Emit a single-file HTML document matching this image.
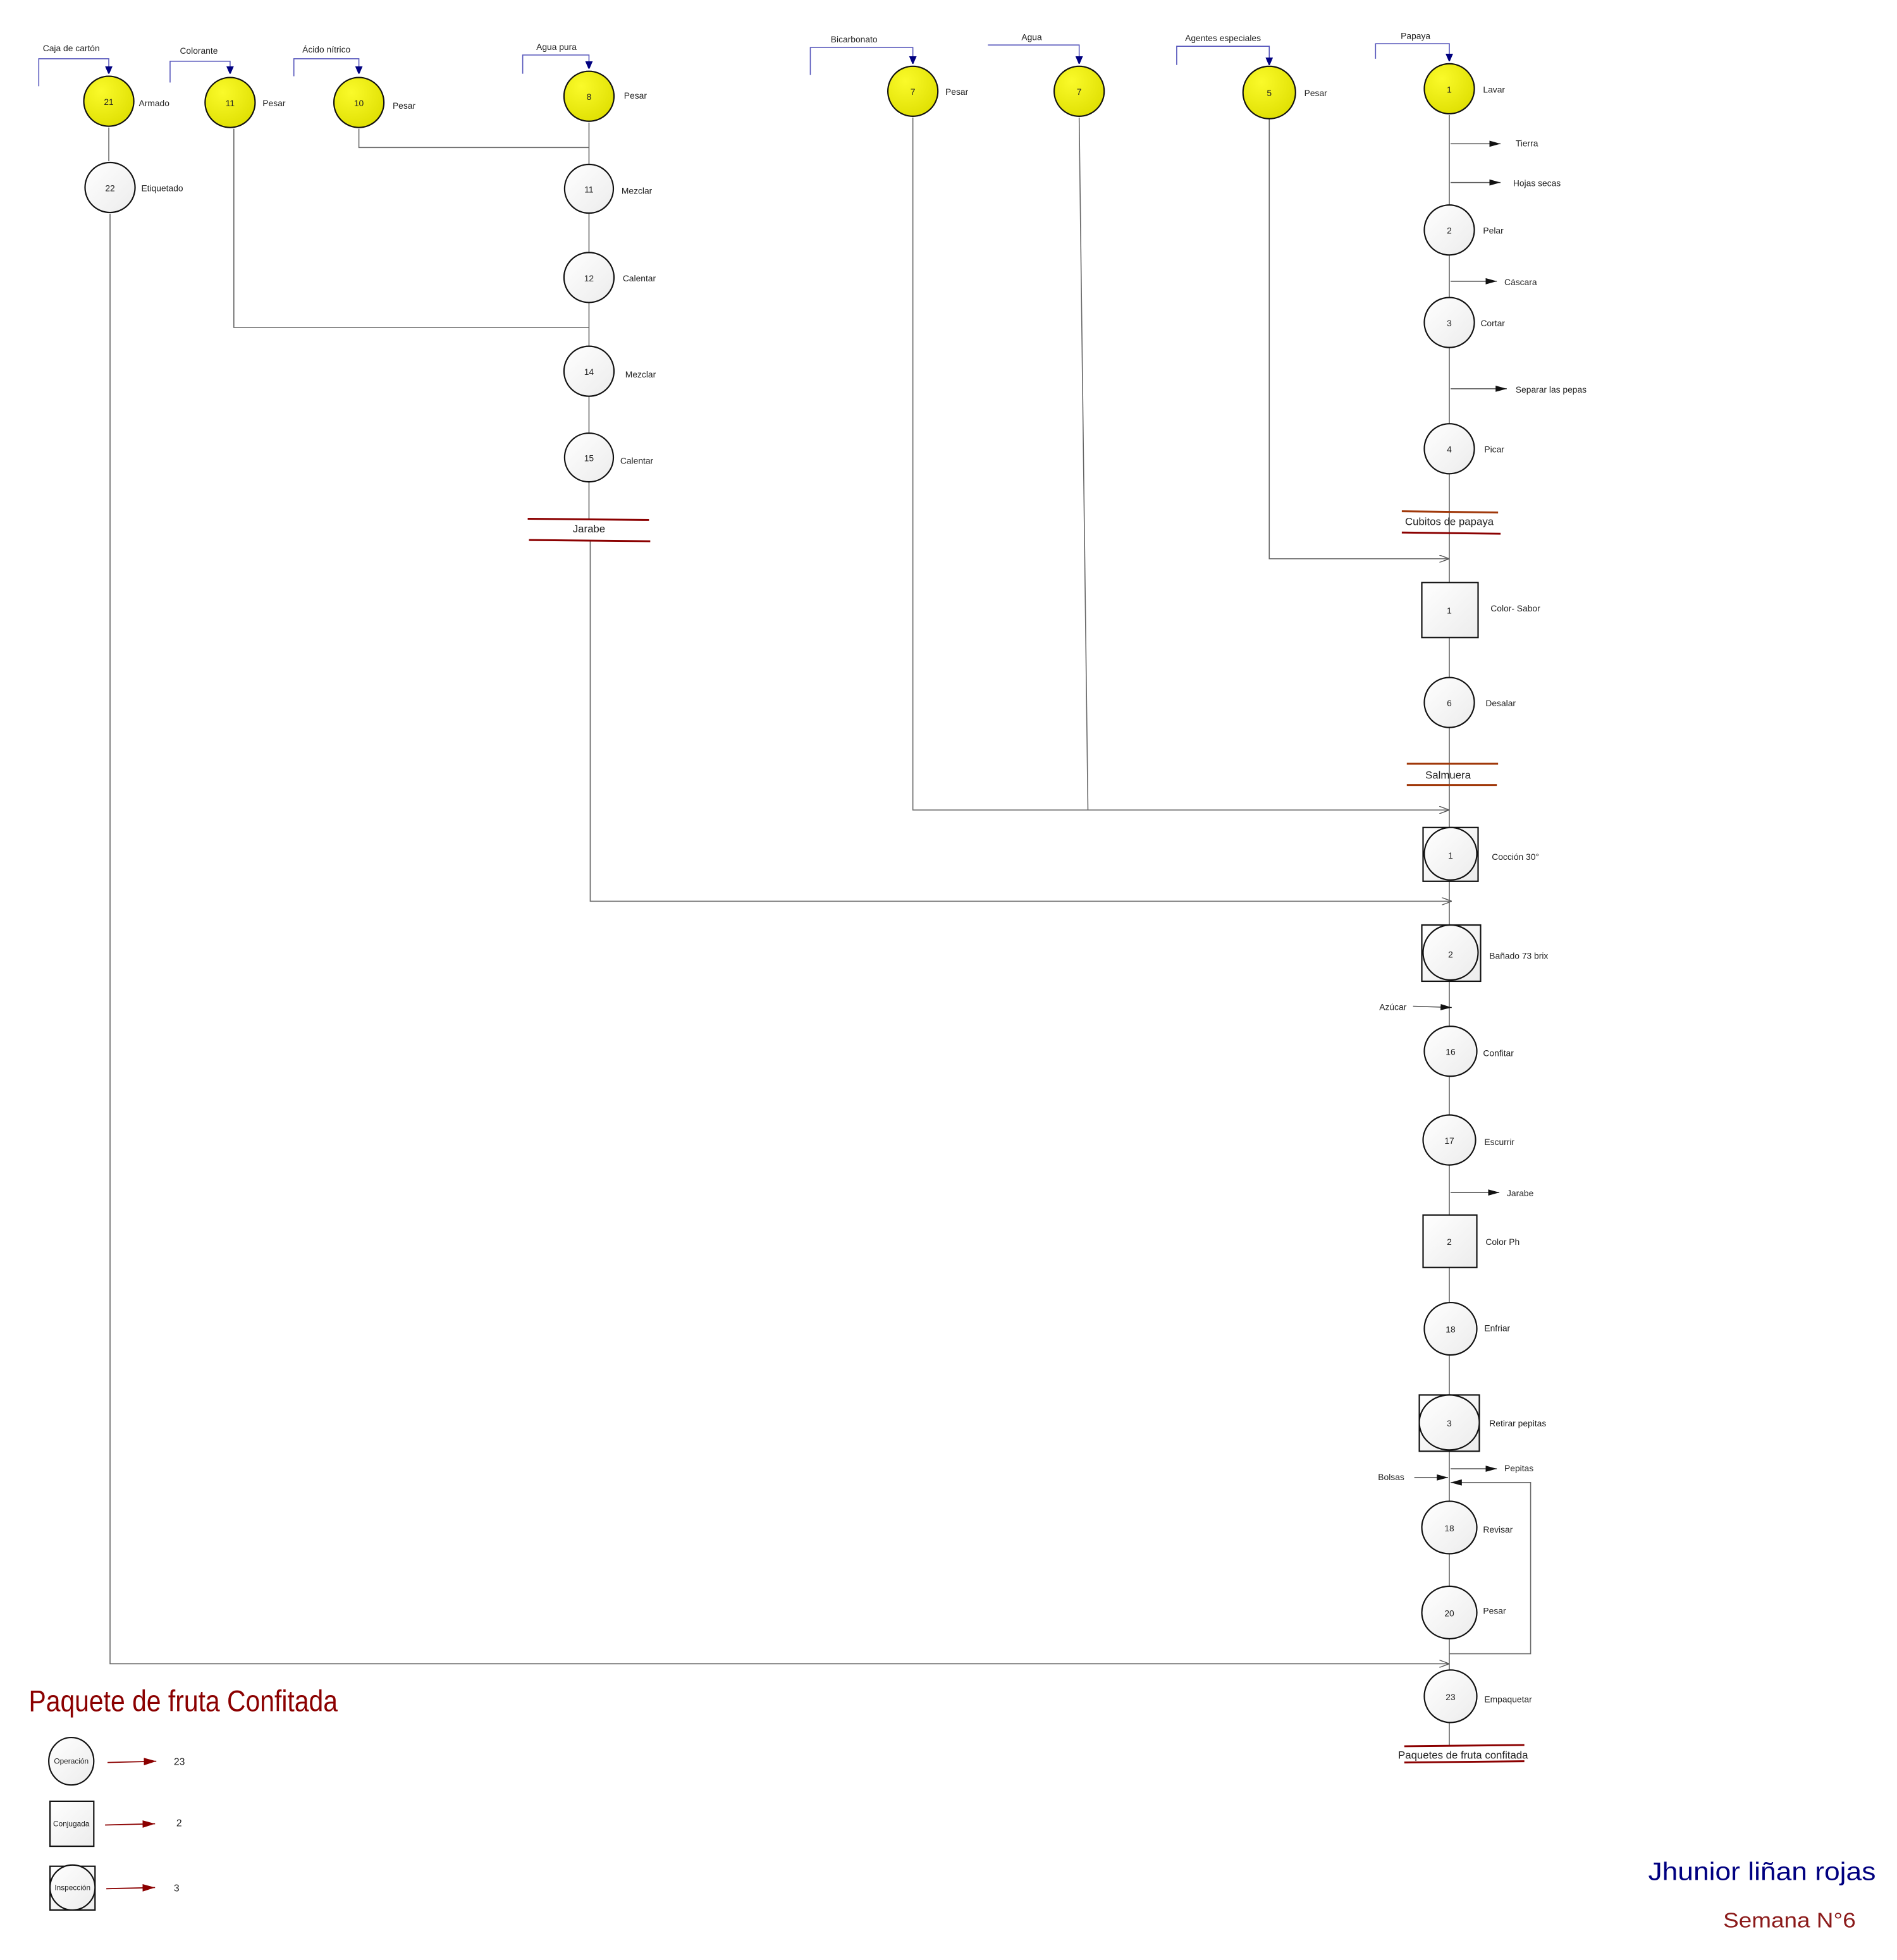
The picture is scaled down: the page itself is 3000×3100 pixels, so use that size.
<!DOCTYPE html>
<html><head><meta charset="utf-8"><style>
html,body{margin:0;padding:0;background:#fff;}
svg{display:block;}
text{font-family:"Liberation Sans",Arial,sans-serif;fill:#222;}
</style></head><body>
<svg width="3000" height="3100" viewBox="0 0 1517 1568" preserveAspectRatio="none" xmlns="http://www.w3.org/2000/svg">
<defs>
<radialGradient id="gy" cx="35%" cy="30%" r="80%"><stop offset="0" stop-color="#fafa2a"/><stop offset="1" stop-color="#dede00"/></radialGradient>
<linearGradient id="gw" x1="0" y1="0" x2="1" y2="1"><stop offset="0" stop-color="#ffffff"/><stop offset="1" stop-color="#ececec"/></linearGradient>
<marker id="ab" markerWidth="6" markerHeight="7" refX="6" refY="3" orient="auto" markerUnits="userSpaceOnUse"><path d="M0,0 L7,3 L0,6 z" fill="#000080"/></marker>
<marker id="af" markerWidth="9" markerHeight="5" refX="9" refY="2.5" orient="auto" markerUnits="userSpaceOnUse"><path d="M0,0 L9,2.5 L0,5 z" fill="#111"/></marker>
<marker id="ao" markerWidth="8" markerHeight="6" refX="8" refY="3" orient="auto" markerUnits="userSpaceOnUse"><path d="M0,0 L8,3 L0,6" fill="none" stroke="#555" stroke-width="0.7"/></marker>
<marker id="ar" markerWidth="10" markerHeight="6" refX="10" refY="3" orient="auto" markerUnits="userSpaceOnUse"><path d="M0,0 L10,3 L0,6 z" fill="#8b0000"/></marker>
</defs>

<g fill="none" stroke="#5555bb" stroke-width="0.8">
<path d="M31,69 V47 H87 V59" marker-end="url(#ab)"/>
<path d="M136,66 V49 H184 V59" marker-end="url(#ab)"/>
<path d="M235,61 V47 H287 V59" marker-end="url(#ab)"/>
<path d="M418,59 V44 H471 V55" marker-end="url(#ab)"/>
<path d="M648,60 V38 H730 V51" marker-end="url(#ab)"/>
<path d="M790,36 H863 V51" marker-end="url(#ab)"/>
<path d="M941,52 V37 H1015 V52" marker-end="url(#ab)"/>
<path d="M1100,47 V35 H1159 V49" marker-end="url(#ab)"/>
</g>
<g font-size="7">
<text x="57" y="41" text-anchor="middle">Caja de cartón</text>
<text x="159" y="43" text-anchor="middle">Colorante</text>
<text x="261" y="42" text-anchor="middle">Ácido nítrico</text>
<text x="445" y="40" text-anchor="middle">Agua pura</text>
<text x="683" y="34" text-anchor="middle">Bicarbonato</text>
<text x="825" y="32" text-anchor="middle">Agua</text>
<text x="978" y="33" text-anchor="middle">Agentes especiales</text>
<text x="1132" y="31" text-anchor="middle">Papaya</text>
</g>

<g fill="none" stroke="#666" stroke-width="0.8">
<path d="M87,102 V129"/>
<path d="M88,171 V1331 H1159" marker-end="url(#ao)"/>
<path d="M187,103 V262 H471"/>
<path d="M287,103 V118 H471"/>
<path d="M471,98 V415"/>
<path d="M472,432 V721 H1161" marker-end="url(#ao)"/>
<path d="M730,94 V648 H1159" marker-end="url(#ao)"/>
<path d="M863,94 L870,648"/>
<path d="M1015,95 V447 H1159" marker-end="url(#ao)"/>
<path d="M1159,92 V1397"/>
<path d="M1159,1323 H1224 V1186 H1160" marker-end="url(#af)"/>
</g>
<g stroke="#555" stroke-width="0.8" fill="none">
<path d="M1160,115 H1200" marker-end="url(#af)"/>
<path d="M1160,146 H1200" marker-end="url(#af)"/>
<path d="M1160,225 H1197" marker-end="url(#af)"/>
<path d="M1160,311 H1205" marker-end="url(#af)"/>
<path d="M1130,805 L1161,806" marker-end="url(#af)"/>
<path d="M1160,954 H1199" marker-end="url(#af)"/>
<path d="M1160,1175 H1197" marker-end="url(#af)"/>
<path d="M1131,1182 H1158" marker-end="url(#af)"/>
</g>

<g stroke="#111" stroke-width="1.1">
<g fill="url(#gy)">
<ellipse cx="87" cy="81" rx="20" ry="20"/>
<ellipse cx="184" cy="82" rx="20" ry="20"/>
<ellipse cx="287" cy="82" rx="20" ry="20"/>
<ellipse cx="471" cy="77" rx="20" ry="20"/>
<ellipse cx="730" cy="73" rx="20" ry="20"/>
<ellipse cx="863" cy="73" rx="20" ry="20"/>
<ellipse cx="1015" cy="74" rx="21" ry="21"/>
<ellipse cx="1159" cy="71" rx="20" ry="20"/>
</g>
<g fill="url(#gw)">
<ellipse cx="88" cy="150" rx="20" ry="20"/>
<ellipse cx="471" cy="151" rx="19.5" ry="19.5"/>
<ellipse cx="471" cy="222" rx="20" ry="20"/>
<ellipse cx="471" cy="297" rx="20" ry="20"/>
<ellipse cx="471" cy="366" rx="19.5" ry="19.5"/>
<ellipse cx="1159" cy="184" rx="20" ry="20"/>
<ellipse cx="1159" cy="258" rx="20" ry="20"/>
<ellipse cx="1159" cy="359" rx="20" ry="20"/>
<rect x="1137" y="466" width="45" height="44"/>
<ellipse cx="1159" cy="562" rx="20" ry="20"/>
<rect x="1138" y="662" width="44" height="43"/>
<ellipse cx="1160" cy="683" rx="21" ry="21"/>
<rect x="1137" y="740" width="47" height="45"/>
<ellipse cx="1160" cy="762" rx="22" ry="22"/>
<ellipse cx="1160" cy="841" rx="21" ry="20"/>
<ellipse cx="1159" cy="912" rx="21" ry="20"/>
<rect x="1138" y="972" width="43" height="42"/>
<ellipse cx="1160" cy="1063" rx="21" ry="21"/>
<rect x="1135" y="1116" width="48" height="45"/>
<ellipse cx="1159" cy="1138" rx="24" ry="22"/>
<ellipse cx="1159" cy="1222" rx="22" ry="21"/>
<ellipse cx="1159" cy="1290" rx="22" ry="21"/>
<ellipse cx="1160" cy="1357" rx="21" ry="21"/>
<ellipse cx="57" cy="1409" rx="18" ry="19"/>
<rect x="40" y="1441" width="35" height="36"/>
<rect x="40" y="1493" width="36" height="35"/>
<ellipse cx="58" cy="1510" rx="18" ry="18"/>
</g>
</g>

<g font-size="7" text-anchor="middle">
<text x="87" y="84">21</text><text x="184" y="85">11</text><text x="287" y="85">10</text><text x="471" y="80">8</text>
<text x="730" y="76">7</text><text x="863" y="76">7</text><text x="1015" y="77">5</text><text x="1159" y="74">1</text>
<text x="88" y="153">22</text><text x="471" y="154">11</text><text x="471" y="225">12</text><text x="471" y="300">14</text><text x="471" y="369">15</text>
<text x="1159" y="187">2</text><text x="1159" y="261">3</text><text x="1159" y="362">4</text><text x="1159" y="491">1</text>
<text x="1159" y="565">6</text><text x="1160" y="687">1</text><text x="1160" y="766">2</text><text x="1160" y="844">16</text>
<text x="1159" y="915">17</text><text x="1159" y="996">2</text><text x="1160" y="1066">18</text><text x="1159" y="1141">3</text>
<text x="1159" y="1225">18</text><text x="1159" y="1293">20</text><text x="1160" y="1360">23</text>
</g>
<g font-size="7">
<text x="111" y="85">Armado</text><text x="210" y="85">Pesar</text><text x="314" y="87">Pesar</text><text x="499" y="79">Pesar</text>
<text x="756" y="76">Pesar</text><text x="1043" y="77">Pesar</text><text x="1186" y="74">Lavar</text>
<text x="113" y="153">Etiquetado</text><text x="497" y="155">Mezclar</text><text x="498" y="225">Calentar</text>
<text x="500" y="302">Mezclar</text><text x="496" y="371">Calentar</text>
<text x="1212" y="117">Tierra</text><text x="1210" y="149">Hojas secas</text>
<text x="1186" y="187">Pelar</text><text x="1203" y="228">Cáscara</text><text x="1184" y="261">Cortar</text>
<text x="1212" y="314">Separar las pepas</text><text x="1187" y="362">Picar</text>
<text x="1192" y="489">Color- Sabor</text><text x="1188" y="565">Desalar</text>
<text x="1193" y="688">Cocción 30°</text><text x="1191" y="767">Bañado 73 brix</text>
<text x="1103" y="808">Azúcar</text><text x="1186" y="845">Confitar</text><text x="1187" y="916">Escurrir</text>
<text x="1205" y="957">Jarabe</text><text x="1188" y="996">Color Ph</text><text x="1187" y="1065">Enfriar</text>
<text x="1191" y="1141">Retirar pepitas</text><text x="1203" y="1177">Pepitas</text><text x="1102" y="1184">Bolsas</text>
<text x="1186" y="1226">Revisar</text><text x="1186" y="1291">Pesar</text><text x="1187" y="1362">Empaquetar</text>
</g>

<g stroke="#8b0000" stroke-width="1.5">
<line x1="422" y1="415" x2="519" y2="416"/><line x1="423" y1="432" x2="520" y2="433"/>
<line x1="1121" y1="409" x2="1198" y2="410" stroke="#a0380a"/><line x1="1121" y1="426" x2="1200" y2="427"/>
<line x1="1125" y1="611" x2="1198" y2="611" stroke="#a0380a"/><line x1="1125" y1="628" x2="1197" y2="628" stroke="#a0380a"/>
<line x1="1123" y1="1397" x2="1219" y2="1396"/><line x1="1123" y1="1410" x2="1219" y2="1409"/>
</g>
<g font-size="8.5" text-anchor="middle">
<text x="471" y="426">Jarabe</text>
<text x="1159" y="420">Cubitos de papaya</text>
<text x="1158" y="623">Salmuera</text>
<text x="1170" y="1407">Paquetes de fruta confitada</text>
</g>

<text x="23" y="1369" font-size="24" textLength="247" lengthAdjust="spacingAndGlyphs" style="fill:#8b0000;font-family:'Liberation Sans Narrow','Liberation Sans',sans-serif">Paquete de fruta Confitada</text>

<g font-size="6" text-anchor="middle">
<text x="57" y="1411">Operación</text><text x="57" y="1461">Conjugada</text><text x="58" y="1512">Inspección</text>
</g>
<g stroke="#8b0000" stroke-width="0.9">
<line x1="86" y1="1410" x2="125" y2="1409" marker-end="url(#ar)"/>
<line x1="84" y1="1460" x2="124" y2="1459" marker-end="url(#ar)"/>
<line x1="85" y1="1511" x2="124" y2="1510" marker-end="url(#ar)"/>
</g>
<g font-size="8"><text x="139" y="1412">23</text><text x="141" y="1461">2</text><text x="139" y="1513">3</text></g>

<text x="1318" y="1504" font-size="20" textLength="182" lengthAdjust="spacingAndGlyphs" style="fill:#000080">Jhunior liñan rojas</text>
<text x="1378" y="1542" font-size="17" textLength="106" lengthAdjust="spacingAndGlyphs" style="fill:#8b1a1a">Semana N°6</text>
</svg>
</body></html>
